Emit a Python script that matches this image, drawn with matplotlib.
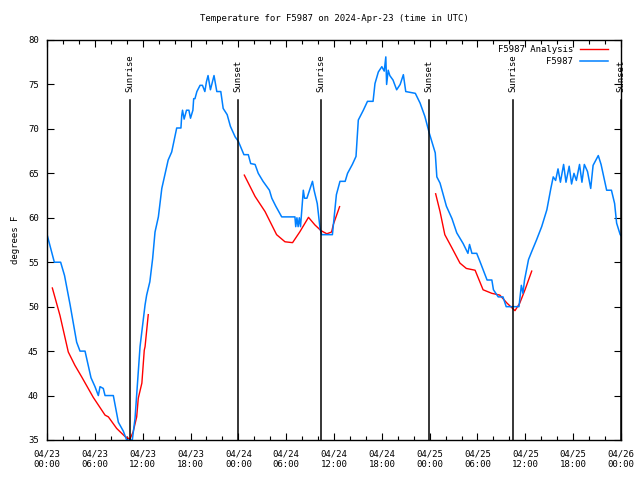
import matplotlib
matplotlib.use("Agg")
import matplotlib.pyplot as plt
from matplotlib.ticker import MultipleLocator

# hours since 2024-04-23 00:00 UTC
obs_hours = [0.04, 0.92, 1.71, 2.2, 2.9, 3.72, 4.14, 4.77, 5.52, 6.02, 6.44, 6.65, 7.06,
             7.28, 8.32, 8.95, 9.57, 9.99, 10.7, 11.04, 11.67, 12.3, 12.5, 12.9, 13.25,
             13.55, 13.97, 14.4, 14.6, 15.2, 15.64, 16.27, 16.8, 16.9, 17.0, 17.2, 17.5,
             17.8, 18.0, 18.3, 18.4, 18.56, 18.8, 19.2, 19.5, 19.8, 20.0, 20.2, 20.5,
             20.95, 21.3, 21.8, 22.1, 22.6, 23.0, 23.6, 24.0, 24.7, 25.25, 25.55, 26.1,
             26.5, 27.1, 27.9, 28.2, 28.7, 29.44, 31.1, 31.2, 31.35, 31.5, 31.65, 31.8,
             32.15, 32.3, 32.6, 33.3, 33.5, 33.9, 34.25, 34.45, 35.8, 36.3, 36.75, 37.4,
             37.7, 38.3, 38.76, 39.05, 39.68, 40.2, 40.9, 41.14, 41.56, 42.0, 42.3, 42.5,
             42.6, 42.8, 43.0, 43.4, 43.86, 44.3, 44.7, 45.0, 46.2, 46.8, 47.4, 47.96,
             48.7, 48.9, 49.3, 50.1, 50.8, 51.4, 52.2, 52.8, 53.0, 53.3, 53.9, 54.3, 55.2,
             55.8, 56.0, 56.6, 57.2, 57.6, 59.2, 59.5, 59.7, 59.9, 60.4, 60.8, 61.4, 62.05,
             62.7, 63.2, 63.5, 63.8, 64.1, 64.4, 64.8, 65.1, 65.5, 65.8, 66.1, 66.4, 66.8,
             67.1, 67.4, 67.8, 68.2, 68.5, 69.15, 69.5, 70.2, 70.8, 71.2, 71.45, 71.9, 72.0]
obs_temp = [58.0, 55.0, 55.0, 53.5, 50.2, 46.0, 45.0, 45.0, 42.0, 41.0, 40.0, 41.0, 40.8,
            40.0, 40.0, 37.0, 36.0, 35.0, 35.0, 37.4, 45.5, 50.2, 51.3, 52.8, 55.4,
            58.4, 60.1, 63.3, 64.1, 66.5, 67.4, 70.1, 70.1, 71.5, 72.1, 71.1, 72.1,
            72.1, 71.2, 72.1, 73.4, 73.4, 74.2, 74.9, 74.9, 74.2, 75.3, 76.0, 74.4,
            76.0, 74.2, 74.2, 72.3, 71.6, 70.3, 69.1, 68.6, 67.1, 67.1, 66.1, 66.0,
            65.0, 64.1, 63.1, 62.2, 61.3, 60.1, 60.1, 59.0, 60.0, 59.0, 60.0, 59.0,
            63.1, 62.2, 62.2, 64.1, 63.1, 61.6, 58.8, 58.1, 58.1, 62.6, 64.1, 64.1,
            65.0, 66.0, 66.9, 71.0, 72.1, 73.1, 73.1, 75.1, 76.4, 77.0, 76.5, 78.1,
            75.0, 76.6, 76.0, 75.5, 74.4, 75.0, 76.1, 74.2, 74.0, 72.9, 71.4, 69.5,
            67.3, 64.6, 63.9, 61.3, 59.9, 58.3, 57.1, 56.0, 57.0, 56.0, 56.0, 55.1, 53.0,
            53.0, 51.9, 51.1, 51.1, 50.0, 50.0, 52.4, 51.5, 53.0, 55.3, 56.2, 57.5, 59.0,
            60.9, 63.3, 64.6, 64.2, 65.5, 64.0, 66.0, 64.0, 65.8, 63.8, 65.0, 64.2, 66.0,
            64.0, 66.0, 65.2, 63.3, 65.9, 67.0, 66.0, 63.1, 63.1, 61.6, 59.4, 58.1, 58.0]

ana_hours_1 = [0.67, 1.63, 2.67, 3.5, 4.35, 5.8, 7.28, 7.7, 8.74, 9.37, 9.78, 10.4, 10.8,
               11.25, 11.45, 11.9, 12.2, 12.3, 12.7]
ana_temp_1 = [52.1, 49.0, 44.9, 43.4, 42.1, 39.8, 37.8, 37.6, 36.3, 35.75, 35.4, 35.1,
              35.9, 37.6, 39.7, 41.4, 45.1, 45.5, 49.1]
ana_hours_2 = [24.75, 26.1, 27.35, 28.8, 29.85, 30.8, 31.7, 32.8, 33.6, 34.37, 35.1, 35.7,
               35.9, 36.7]
ana_temp_2 = [64.8, 62.4, 60.7, 58.1, 57.3, 57.2, 58.4, 60.05, 59.2, 58.55, 58.2, 58.4,
              59.2, 61.25]
ana_hours_3 = [48.75, 49.3, 49.9, 50.8, 51.8, 52.6, 53.7, 54.7, 55.8, 56.8, 57.7, 58.7,
               59.3, 59.96, 60.8]
ana_temp_3 = [62.7, 60.7, 58.1, 56.6, 54.9, 54.3, 54.1, 51.9, 51.5, 51.3, 50.4, 49.55,
              50.4, 51.9, 54.0]

sun_hours = [10.41, 23.92, 34.37, 47.96, 58.49, 72.0]
sun_labels = ["Sunrise", "Sunset", "Sunrise", "Sunset", "Sunrise", "Sunset"]

tick_hours = [0, 6, 12, 18, 24, 30, 36, 42, 48, 54, 60, 66, 72]
tick_labels = ["04/23\n00:00", "04/23\n06:00", "04/23\n12:00", "04/23\n18:00",
               "04/24\n00:00", "04/24\n06:00", "04/24\n12:00", "04/24\n18:00",
               "04/25\n00:00", "04/25\n06:00", "04/25\n12:00", "04/25\n18:00",
               "04/26\n00:00"]

plt.rcParams['font.family'] = ['DejaVu Sans Mono']
plt.rcParams['font.size'] = 6.5

fig = plt.figure(figsize=(6.4, 4.8), dpi=100)
ax = fig.add_axes([47 / 640, 40 / 480, 574 / 640, 400 / 480])

red = '#ff0000'
blue = '#0080ff'
ax.plot(ana_hours_1, ana_temp_1, color=red, lw=1.0, label='F5987 Analysis')
ax.plot(ana_hours_2, ana_temp_2, color=red, lw=1.0)
ax.plot(ana_hours_3, ana_temp_3, color=red, lw=1.0)
ax.plot(obs_hours, obs_temp, color=blue, lw=1.1, label='F5987')

for h, lab in zip(sun_hours, sun_labels):
    ax.axvline(h, ymin=0, ymax=0.85, color='black', lw=1.1)
    ax.text(h, 0.87, lab, transform=ax.get_xaxis_transform(), rotation=90,
            ha='center', va='bottom', fontsize=6.5)

ax.set_xlim(0, 72)
ax.set_ylim(35, 80)
ax.set_xticks(tick_hours)
ax.set_xticklabels(tick_labels)
ax.xaxis.set_minor_locator(MultipleLocator(2))
ax.yaxis.set_major_locator(MultipleLocator(5))
ax.tick_params(which='both', direction='in', top=True, right=True, width=0.8)
ax.tick_params(which='major', length=5)
ax.tick_params(which='minor', length=3)
ax.tick_params(axis='x', pad=7)
ax.tick_params(axis='y', pad=6)
for s in ax.spines.values():
    s.set_linewidth(1.0)

ax.set_ylabel('degrees F', labelpad=6)
ax.set_title('Temperature for F5987 on 2024-Apr-23 (time in UTC)', pad=14, fontsize=6.5)
ax.legend(loc='upper right', bbox_to_anchor=(0.986, 1.0), frameon=False,
          markerfirst=False, handlelength=3.0, borderaxespad=0.2,
          labelspacing=0.3, handletextpad=0.8)

fig.savefig('out.png', dpi=100)
